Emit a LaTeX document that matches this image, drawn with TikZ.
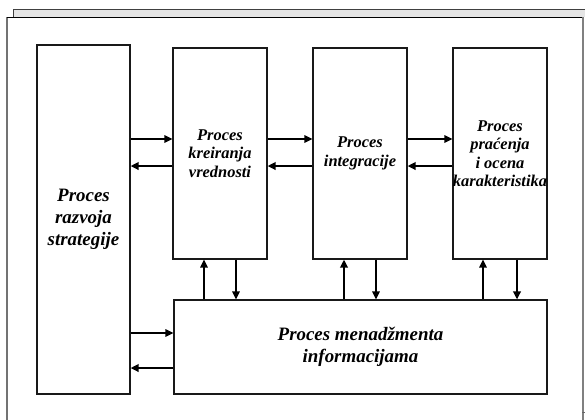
\documentclass[tikz,border=0pt]{standalone}
\usepackage{fontspec}
\setmainfont{Liberation Serif}
\usetikzlibrary{arrows.meta}
\begin{document}
\begin{tikzpicture}[x=1bp,y=-1bp,
  proc/.style={draw=black!90,line width=1.2bp,fill=white,inner sep=0pt,align=center,
    font=\fontsize{16.5}{18.5}\selectfont\bfseries\itshape},
  bigproc/.style={proc,font=\fontsize{19}{22}\selectfont\bfseries\itshape},
  arr/.style={-{Triangle[length=8bp,width=7.5bp]},line width=1.4bp},
  thickarr/.style={arr,line width=2.5bp}]
\useasboundingbox (0,0) rectangle (585,419);
% window frame
\fill[black!10] (13,9) rectangle (590,17);
\draw[black!75,line width=0.9bp] (13,17) -- (13,9) -- (590,9);
\fill[white] (7,17) rectangle (583,430);
\draw[black!55,line width=1.6bp] (7,430) -- (7,17);
\draw[black,line width=1bp] (7,17) -- (583,17);
\draw[black!50,line width=2bp] (583,17) -- (583,430);
\draw[black!60,line width=1bp] (582,412) -- (586,412);
% process boxes
\node[bigproc,minimum width=93bp,minimum height=349bp] (strat) at (83.5,219.5)
  {Proces\\razvoja\\strategije};
\node[proc,minimum width=94bp,minimum height=211bp] (krei) at (220,153.5)
  {Proces\\kreiranja\\vrednosti};
\node[proc,minimum width=94bp,minimum height=211bp] (integ) at (360,153.5)
  {Proces\\integracije};
\node[proc,minimum width=94bp,minimum height=211bp] (prac) at (500,153.5)
  {Proces\\pra\'cenja\\i ocena\\karakteristika};
\node[bigproc,minimum width=373bp,minimum height=94bp] (info) at (360.5,347)
  {Proces menad\v{z}menta\\informacijama};
% horizontal flows
\draw[arr] (strat.east |- 0,139) -- (krei.west |- 0,139);
\draw[thickarr] (krei.west |- 0,166) -- (strat.east |- 0,166);
\draw[arr] (krei.east |- 0,139) -- (integ.west |- 0,139);
\draw[thickarr] (integ.west |- 0,166) -- (krei.east |- 0,166);
\draw[arr] (integ.east |- 0,139) -- (prac.west |- 0,139);
\draw[thickarr] (prac.west |- 0,166) -- (integ.east |- 0,166);
\draw[arr] (strat.east |- 0,333) -- (info.west |- 0,333);
\draw[thickarr] (info.west |- 0,368) -- (strat.east |- 0,368);
% vertical flows
\draw[arr] (info.north -| 204,0) -- (krei.south -| 204,0);
\draw[arr] (krei.south -| 236,0) -- (info.north -| 236,0);
\draw[thickarr] (info.north -| 344,0) -- (integ.south -| 344,0);
\draw[arr] (integ.south -| 376,0) -- (info.north -| 376,0);
\draw[arr] (info.north -| 483,0) -- (prac.south -| 483,0);
\draw[thickarr] (prac.south -| 517,0) -- (info.north -| 517,0);
\end{tikzpicture}
\end{document}
